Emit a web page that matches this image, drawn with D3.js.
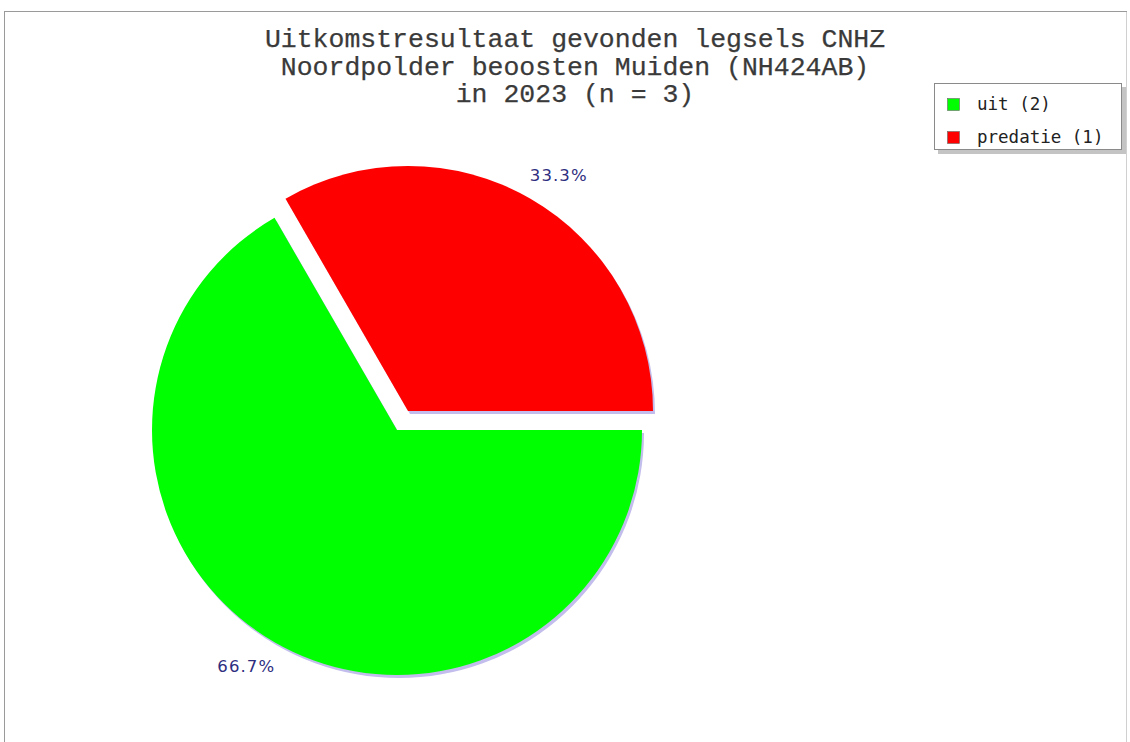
<!DOCTYPE html>
<html>
<head>
<meta charset="utf-8">
<script src="https://cdn.jsdelivr.net/npm/d3@7"></script>
<style>
  html, body { margin: 0; padding: 0; background: #fff; }
  svg { display: block; }
</style>
</head>
<body>
<svg id="chart" width="1130" height="742"></svg>
<script>
// ---- data ----
const categories = ["uit", "predatie"];
const counts = [2, 1];
const colors = ["#00ff00", "#ff0000"];
const explode = [0, 22];
const titleLines = [
  "Uitkomstresultaat gevonden legsels CNHZ",
  "Noordpolder beoosten Muiden (NH424AB)",
  "in 2023 (n = 3)"
];

const svg = d3.select("#chart");
const W = 1130, H = 742;

// frame
svg.append("rect").attr("x", 4.5).attr("y", 11.5).attr("width", 1122).attr("height", 760)
  .attr("fill", "#fff").attr("stroke", "#d0d0d0");
svg.append("line").attr("x1", 4.5).attr("x2", 4.5).attr("y1", 11).attr("y2", H).attr("stroke", "#9a9a9a");
svg.append("line").attr("x1", 4).attr("x2", 1127).attr("y1", 11.5).attr("y2", 11.5).attr("stroke", "#9a9a9a");

// title
const title = svg.append("g");
titleLines.forEach((t, i) => {
  title.append("text")
    .attr("x", 575).attr("y", 47 + i * 27.7)
    .attr("text-anchor", "middle")
    .attr("font-family", "Liberation Mono, monospace")
    .attr("font-size", 26.5)
    .attr("fill", "#3a3a3a")
    .attr("stroke", "#3a3a3a").attr("stroke-width", 0.25)
    .text(t);
});

// pie
const cx = 397, cy = 430, R = 245;
const total = d3.sum(counts);
const pie = d3.pie().sort(null)
  .startAngle(Math.PI / 2).endAngle(Math.PI / 2 + 2 * Math.PI);
const arcs = pie(counts);
const arc = d3.arc().innerRadius(0).outerRadius(R);
const pieG = svg.append("g").attr("transform", `translate(${cx},${cy})`);

function offset(d, i) {
  const m = (d.startAngle + d.endAngle) / 2;
  return [Math.sin(m) * explode[i], -Math.cos(m) * explode[i]];
}

// shadow
pieG.selectAll("path.shadow").data(arcs).join("path")
  .attr("class", "shadow")
  .attr("d", arc)
  .attr("fill", "#c2bdec")
  .attr("transform", (d, i) => { const o = offset(d, i); return `translate(${o[0] + 2},${o[1] + 3})`; });

pieG.selectAll("path.slice").data(arcs).join("path")
  .attr("class", "slice")
  .attr("d", arc)
  .attr("fill", (d, i) => colors[i])
  .attr("transform", (d, i) => { const o = offset(d, i); return `translate(${o[0]},${o[1]})`; });

// percentage labels
const labelR = 280, labelRot = 0.045;
pieG.selectAll("text.pct").data(arcs).join("text")
  .attr("class", "pct")
  .attr("x", (d, i) => { const m = (d.startAngle + d.endAngle) / 2 + labelRot; return offset(d, i)[0] + Math.sin(m) * labelR; })
  .attr("y", (d, i) => { const m = (d.startAngle + d.endAngle) / 2 + labelRot; return offset(d, i)[1] - Math.cos(m) * labelR; })
  .attr("dy", "0.36em")
  .attr("text-anchor", "middle")
  .attr("font-family", "DejaVu Sans, Verdana, sans-serif")
  .attr("font-size", 16.5)
  .attr("letter-spacing", 1.1)
  .attr("fill", "#2e2e80")
  .text(d => (d.value / total * 100).toFixed(1) + "%");

// legend
const lg = svg.append("g").attr("transform", "translate(934,83)");
lg.append("rect").attr("x", 4).attr("y", 4).attr("width", 188).attr("height", 67).attr("fill", "#c4c4c4");
lg.append("rect").attr("x", 0.5).attr("y", 0.5).attr("width", 187).attr("height", 66)
  .attr("fill", "#fff").attr("stroke", "#8a8a8a");
categories.forEach((c, i) => {
  const y = 22 + i * 33;
  lg.append("rect").attr("x", 13.5).attr("y", y - 6.5).attr("width", 12).attr("height", 12)
    .attr("fill", colors[i]).attr("stroke", "#666").attr("stroke-width", 0.6);
  lg.append("text").attr("x", 43).attr("y", y + 5)
    .attr("font-family", "DejaVu Sans Mono, monospace")
    .attr("font-size", 17.5)
    .attr("fill", "#222")
    .text(`${c} (${counts[i]})`);
});
</script>
</body>
</html>
